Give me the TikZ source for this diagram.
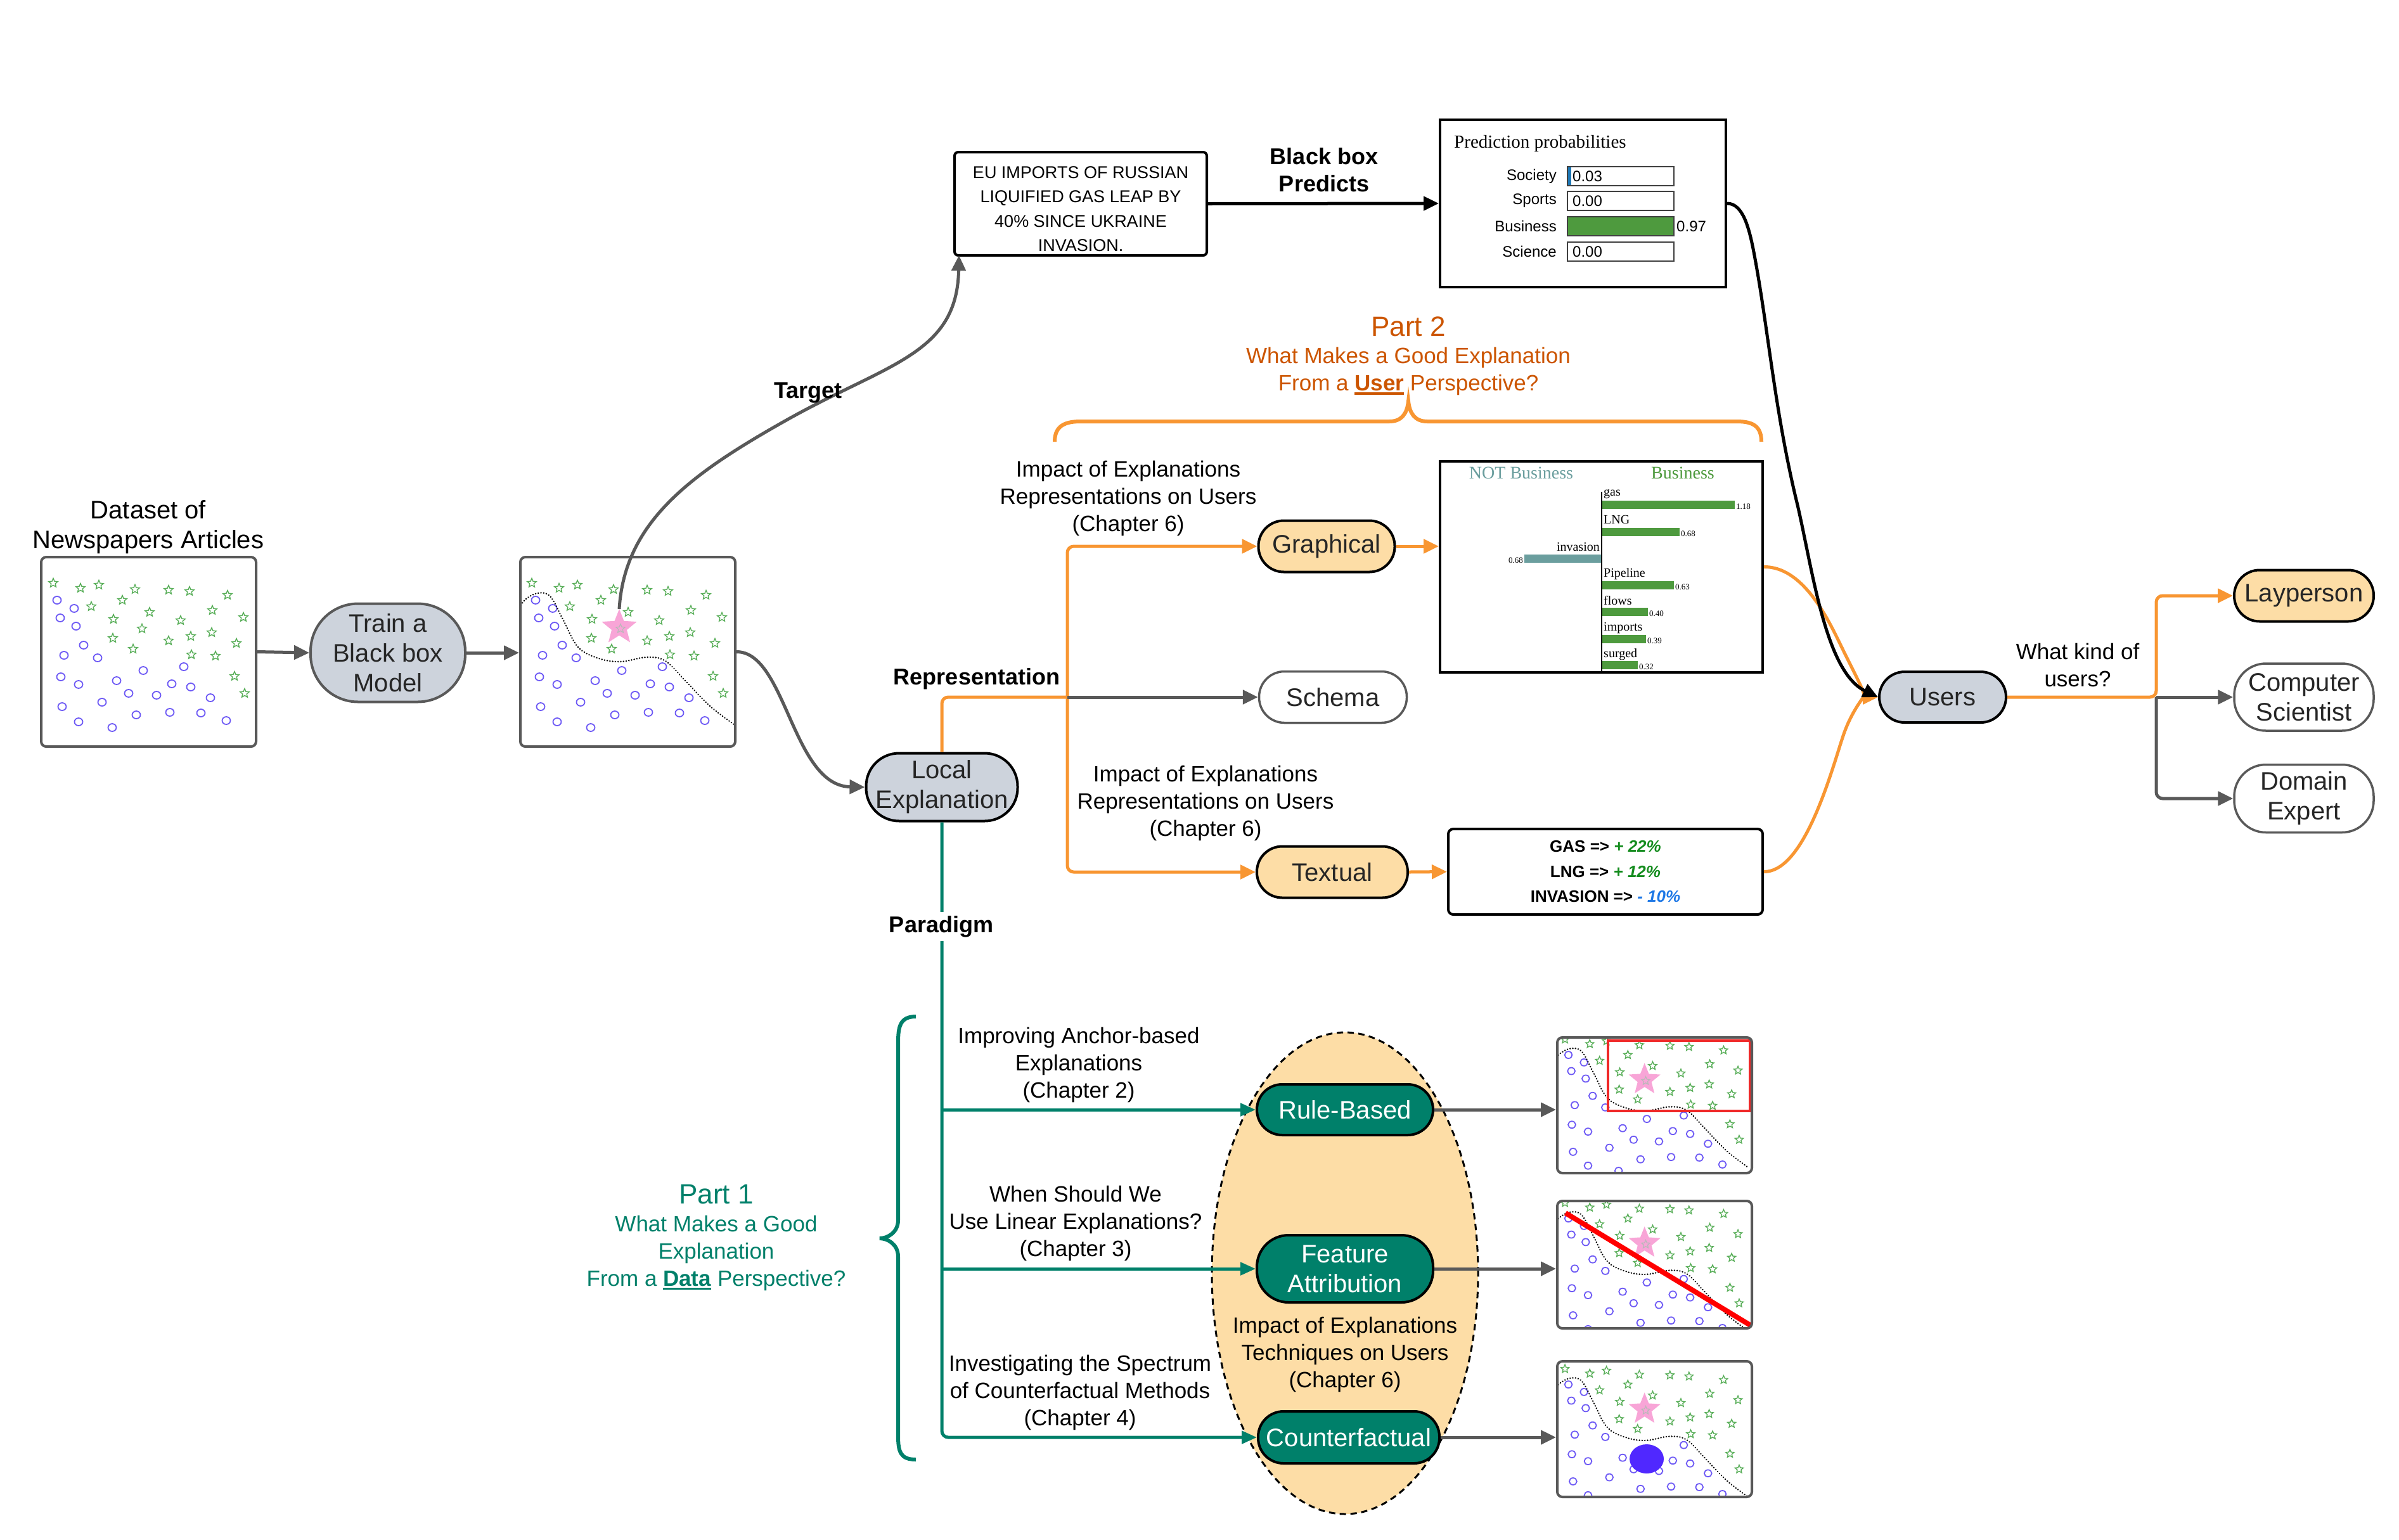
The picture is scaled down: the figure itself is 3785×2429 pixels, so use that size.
\documentclass[tikz,border=0pt]{standalone}
\usepackage{fontspec}
\setmainfont{Liberation Sans}
\newfontfamily\serifplot{Liberation Serif}
\usetikzlibrary{arrows.meta,shapes.geometric}
\definecolor{gline}{RGB}{89,89,89}
\definecolor{orng}{RGB}{248,150,50}
\definecolor{tealc}{RGB}{0,128,106}
\definecolor{peach}{RGB}{253,221,166}
\definecolor{bgrey}{RGB}{205,211,220}
\definecolor{ptwo}{RGB}{204,85,0}
\definecolor{circc}{RGB}{110,90,245}
\definecolor{starc}{RGB}{90,175,90}
\definecolor{pinkc}{RGB}{248,165,215}
\definecolor{plotg}{RGB}{78,154,62}
\definecolor{plott}{RGB}{107,158,158}
\definecolor{redc}{RGB}{240,40,40}
\definecolor{bluec}{RGB}{80,40,255}
\definecolor{txtgreen}{RGB}{20,140,30}
\definecolor{txtblue}{RGB}{30,120,230}
\definecolor{probblue}{RGB}{31,119,180}
\newcommand\fsz[2]{\fontsize{#1}{#2}\selectfont}
\newsavebox\ulbox
\newcommand\thul[1]{\sbox\ulbox{#1}\rlap{\rule[-6pt]{\wd\ulbox}{3.5pt}}\usebox\ulbox}
\newcommand\scatterpts{%
 \foreach \px/\py in {25/68,52/81,30/96,55/109,67/139,36/155,89/159,161/179,225/173,31/189,59/201,119/195,206/200,236/205,138/215,182/218,267/222,96/229,33/236,150/249,203/245,252/246,292/258,59/260,112/269}
  {\draw[circsty] (\px,\py) ellipse [x radius=6.5, y radius=6];}
 \foreach \px/\py in {19/41,62/49,91/44,148/51,201/52,234/54,294/60,79/78,128/68,171/87,114/98,220/100,270/84,319/95,159/113,113/128,201/132,236/125,269/119,308/136,145/145,237/154,275/156,305/188,321/215}
  {\node[smallstar] at (\px,\py) {};}
}
\newcommand\boundarypink{%
 \draw[bndsty] plot[smooth, tension=0.6] coordinates {(2,76) (10,66) (28,57) (48,62) (68,98) (92,142) (125,160) (160,165) (200,158) (230,164) (262,196) (300,235) (338,264)};
 \node[pinkstarsty] at (157,111) {};
 \node[faintstar] at (159,113) {};
}
\tikzset{
 circsty/.style={draw=circc, line width=1.8pt},
 smallstar/.style={star, star points=5, star point ratio=2.2, draw=starc, line width=1.4pt, minimum size=15pt, inner sep=0pt},
 pinkstarsty/.style={star, star points=5, star point ratio=2.3, fill=pinkc, minimum size=58pt, inner sep=0pt},
 faintstar/.style={star, star points=5, star point ratio=2.2, draw=gray!55, line width=1.2pt, minimum size=15pt, inner sep=0pt},
 bndsty/.style={black, line width=2.6pt, line cap=round, dash pattern=on 0.1pt off 4.2pt},
 pill/.style={draw=black, line width=4pt, inner sep=0pt, align=center, font=\fsz{40}{47}, text=black!85},
 gconn/.style={draw=gline, line width=5pt, -{Triangle[length=24pt,width=22pt]}, rounded corners=10pt},
 oline/.style={draw=orng, line width=5pt, rounded corners=10pt},
 oconn/.style={draw=orng, line width=5pt, -{Triangle[length=24pt,width=22pt]}, rounded corners=10pt},
 tconn/.style={draw=tealc, line width=5pt, -{Triangle[length=24pt,width=20pt]}, rounded corners=10pt},
 bconn/.style={draw=black, line width=5pt, -{Triangle[length=24pt,width=22pt]}},
 lbl/.style={align=center, font=\fsz{35}{43}, inner sep=0pt},
 blbl/.style={align=center, font=\fsz{36}{43}\bfseries, inner sep=0pt},
 databox/.style={draw=gline, line width=4pt, rounded corners=8pt, inner sep=0pt},
}
\begin{document}
\begin{tikzpicture}[x=1pt,y=-1pt]
\useasboundingbox (0,0) rectangle (3785,2429);
\fill[white] (0,0) rectangle (3785,2429);

% ---------- dashed ellipse ----------
\node[ellipse, draw=black, fill=peach, line width=3pt, dash pattern=on 10pt off 7pt, minimum width=420pt, minimum height=760pt, inner sep=0pt] (ell) at (2122,2009) {};

% ---------- dataset box ----------
\node[lbl, font=\fsz{40}{47}] (dlab) at (234,832) {Dataset of\\Newspapers Articles};
\begin{scope}[shift={(65,879)}]
 \scatterpts
\end{scope}
\node[databox, minimum width=339pt, minimum height=299pt] (dbox) at (234.5,1028.5) {};

% ---------- trained box ----------
\begin{scope}[shift={(820,879)}]
 \scatterpts
 \boundarypink
\end{scope}
\node[databox, minimum width=339pt, minimum height=299pt] (tbox) at (990.5,1028.5) {};
\coordinate (tstar) at (977,961);

% ---------- result boxes ----------
\begin{scope}
 \clip[rounded corners=8pt] (2457,1637) rectangle (2764,1851);
 \begin{scope}[shift={(2451.8,1602.7)}, scale=0.91, transform shape]
  \scatterpts \boundarypink
 \end{scope}
 \draw[redc, line width=4pt] (2537,1642) rectangle (2761,1753);
\end{scope}
\node[databox, minimum width=307pt, minimum height=214pt] (rb1) at (2610.5,1744) {};

\begin{scope}
 \clip[rounded corners=8pt] (2457,1895) rectangle (2764,2096);
 \begin{scope}[shift={(2451.8,1860.7)}, scale=0.91, transform shape]
  \scatterpts \boundarypink
 \end{scope}
 \draw[red, line width=8pt] (2470,1914) -- (2763,2092);
\end{scope}
\node[databox, minimum width=307pt, minimum height=201pt] (rb2) at (2610.5,1995.5) {};

\begin{scope}
 \clip[rounded corners=8pt] (2457,2148) rectangle (2764,2362);
 \begin{scope}[shift={(2451.8,2122.7)}, scale=0.91, transform shape]
  \scatterpts \boundarypink
 \end{scope}
 \fill[bluec] (2598,2302) ellipse [x radius=27, y radius=23];
\end{scope}
\node[databox, minimum width=307pt, minimum height=214pt] (rb3) at (2610.5,2255) {};

% ---------- nodes ----------
\node[pill, fill=bgrey, draw=gline, minimum width=244pt, minimum height=155pt, rounded corners=75pt] (train) at (612,1030) {Train a\\Black box\\Model};
\node[pill, fill=bgrey, minimum width=239pt, minimum height=107pt, rounded corners=52pt] (local) at (1486,1242) {Local\\Explanation};
\node[pill, fill=peach, minimum width=215pt, minimum height=81pt, rounded corners=40pt] (graph) at (2093,862) {Graphical};
\node[pill, fill=white, draw=gline, line width=3.5pt, minimum width=233pt, minimum height=81pt, rounded corners=40pt] (schema) at (2103,1100) {Schema};
\node[pill, fill=peach, minimum width=238pt, minimum height=81pt, rounded corners=40pt] (textual) at (2102,1376) {Textual};
\node[pill, fill=bgrey, minimum width=200pt, minimum height=80pt, rounded corners=40pt] (users) at (3065,1100) {Users};
\node[pill, fill=peach, minimum width=220pt, minimum height=81pt, rounded corners=40pt] (lay) at (3635,940) {Layperson};
\node[pill, fill=white, draw=gline, line width=3.5pt, minimum width=220pt, minimum height=106pt, rounded corners=50pt] (cs) at (3635,1100) {Computer\\Scientist};
\node[pill, fill=white, draw=gline, line width=3.5pt, minimum width=220pt, minimum height=107pt, rounded corners=50pt] (de) at (3635,1260) {Domain\\Expert};
\node[pill, fill=tealc, text=white, minimum width=278pt, minimum height=80pt, rounded corners=40pt] (rule) at (2122,1751) {Rule-Based};
\node[pill, fill=tealc, text=white, minimum width=278pt, minimum height=106pt, rounded corners=50pt] (feat) at (2122,2002) {Feature\\Attribution};
\node[pill, fill=tealc, text=white, minimum width=286pt, minimum height=82pt, rounded corners=40pt] (cf) at (2128,2268) {Counterfactual};

% ---------- headline box ----------
\node[draw=black, line width=4pt, rounded corners=6pt, minimum width=398pt, minimum height=163pt, inner sep=0pt] (headline) at (1705,321.5) {};
\node[align=center, font=\fsz{27}{38.5}, inner sep=0pt] (hltext) at (1705,329.5) {EU IMPORTS OF RUSSIAN\\LIQUIFIED GAS LEAP BY\\40\% SINCE UKRAINE\\INVASION.};

% ---------- prediction probabilities ----------
\node[draw=black, line width=4pt, minimum width=451pt, minimum height=264pt, inner sep=0pt] (pred) at (2497.5,321) {};
\node[anchor=west, font=\serifplot\fsz{29}{32}, inner sep=0pt] (pptitle) at (2294,227) {Prediction probabilities};
\fill[probblue] (2473,263) rectangle (2479,293);
\fill[plotg] (2473,342) rectangle (2641,372);
\foreach \nm/\yy in {Society/278, Sports/317, Business/357, Science/397}
 {\node[anchor=east, font=\fsz{24}{26}, inner sep=0pt] at (2456,\yy) {\nm};
  \draw[line width=1.6pt, draw=black!75] (2473,\yy-15) rectangle (2641,\yy+15);}
\foreach \vv/\yy in {0.03/278, 0.00/317, 0.00/397}
 {\node[anchor=west, font=\fsz{24}{26}, inner sep=0pt] at (2481,\yy) {\vv};}
\node[anchor=west, font=\fsz{24}{26}, inner sep=0pt] at (2645,357) {0.97};

% ---------- graphical explanation image ----------
\node[draw=black, line width=4pt, minimum width=509pt, minimum height=333pt, inner sep=0pt] (gimg) at (2526.5,894.5) {};
\node[text=plott, font=\serifplot\fsz{28}{30}, inner sep=0pt] at (2400,746) {NOT Business};
\node[text=plotg, font=\serifplot\fsz{28}{30}, inner sep=0pt] at (2655,746) {Business};
\draw[line width=2pt] (2527,776) -- (2527,1059);
\foreach \lab/\yl/\yb/\xe/\val in {gas/780/790/2737/1.18, LNG/820/833/2650/0.68, Pipeline/906/917/2641/0.63, flows/948/959/2600/0.40, imports/991/1002/2597/0.39, surged/1033/1043/2584/0.32}
 {\node[anchor=west, font=\serifplot\fsz{20}{22}, inner sep=0pt] at (2530,\yl) {\lab};
  \fill[plotg] (2528,\yb) rectangle (\xe,\yb+13);
  \node[anchor=west, font=\serifplot\fsz{13}{14}, inner sep=0pt] at (\xe+2,\yb+9) {\val};}
\node[anchor=east, font=\serifplot\fsz{20}{22}, inner sep=0pt] at (2524,863) {invasion};
\fill[plott] (2405,875) rectangle (2526,888);
\node[anchor=east, font=\serifplot\fsz{13}{14}, inner sep=0pt] at (2403,884) {0.68};

% ---------- textual explanation box ----------
\node[draw=black, line width=4pt, rounded corners=8pt, minimum width=496pt, minimum height=135pt, align=center, font=\fsz{26}{39.5}\bfseries, inner sep=0pt] (txtbox) at (2533,1375.5) {GAS => {\color{txtgreen}\itshape + 22\%}\\LNG => {\color{txtgreen}\itshape + 12\%}\\INVASION => {\color{txtblue}\itshape - 10\%}};

% ---------- connectors ----------
\coordinate (rj) at (1684,1100);
\coordinate (uj) at (3402,1100);
\coordinate (tgt) at (1513,403);
\draw[gconn] (dbox.east) -- (train.west);
\draw[gconn] (train.east) -- (tbox.west |- train.east);
\draw[gconn] (tbox.east) .. controls (1240,1028) and (1250,1240) .. (local.west);
\draw[gconn] (tstar) .. controls (985,830) and (1080,755) .. (1230,669) .. controls (1400,573) and (1510,560) .. (tgt);
\draw[bconn] (headline.east) -- (pred.west);
\draw[oline] (local.north) |- (rj);
\draw[oconn] (rj) |- (graph.west);
\draw[oconn] (rj) |- (textual.west);
\draw[gconn] (rj) -- (schema.west);
\draw[oconn] (graph.east) -- (graph.east -| gimg.west);
\draw[oconn] (textual.east) -- (txtbox.west);
\draw[oconn] (gimg.east) .. controls (2850,894) and (2890,990) .. (2915,1040) .. controls (2935,1080) and (2945,1100) .. (users.west);
\draw[oconn] (txtbox.east) .. controls (2840,1376) and (2880,1250) .. (2905,1170) .. controls (2920,1125) and (2940,1100) .. (users.west);
\draw[bconn] (pred.east) .. controls (2750,321) and (2760,360) .. (2768,403) .. controls (2790,520) and (2800,650) .. (2836,797) .. controls (2860,900) and (2880,1060) .. (users.west);
\draw[gconn] (uj) -- (cs.west);
\draw[gconn] (uj) |- (de.west);
\draw[oconn] (users.east) -- (uj) |- (lay.west);
\draw[tconn] (local.south) |- (cf.west);
\draw[tconn] (local.south |- rule.west) -- (rule.west);
\draw[tconn] (local.south |- feat.west) -- (feat.west);
\draw[gconn] (rule.east) -- (rule.east -| rb1.west);
\draw[gconn] (feat.east) -- (feat.east -| rb2.west);
\draw[gconn] (cf.east) -- (cf.east -| rb3.west);

% ---------- braces ----------
\draw[orng, line width=6pt] (1664,697) .. controls (1664,672) and (1680,665) .. (1705,665) -- (2192,665) .. controls (2212,665) and (2220,652) .. (2222,633) .. controls (2224,652) and (2232,665) .. (2252,665) -- (2740,665) .. controls (2765,665) and (2779,672) .. (2779,697);
\draw[tealc, line width=6pt] (1445,1604) .. controls (1420,1604) and (1417,1620) .. (1417,1645) -- (1417,1925) .. controls (1417,1945) and (1400,1954) .. (1388,1954) .. controls (1400,1954) and (1417,1963) .. (1417,1983) -- (1417,2265) .. controls (1417,2290) and (1420,2303) .. (1445,2303);

% ---------- labels ----------
\node[blbl] (ltarget) at (1275,620) {Target};
\node[blbl] (lpred) at (2089,268) {Black box\\Predicts};
\node[blbl] (lrep) at (1541,1071) {Representation};
\node[blbl, fill=white, inner sep=6pt] (lpar) at (1485,1462) {Paradigm};
\node[text=ptwo, font=\fsz{44}{50}, inner sep=0pt] (p2) at (2222,515) {Part 2};
\node[lbl, text=ptwo] (p2sub) at (2222,586) {What Makes a Good Explanation\\From a \thul{\textbf{User}} Perspective?};
\node[text=tealc, font=\fsz{44}{50}, inner sep=0pt] (p1) at (1130,1885) {Part 1};
\node[lbl, text=tealc] (p1sub) at (1130,1977) {What Makes a Good\\Explanation\\From a \thul{\textbf{Data}} Perspective?};
\node[lbl] (imp1) at (1780,786) {Impact of Explanations\\Representations on Users\\(Chapter 6)};
\node[lbl] (imp2) at (1902,1267) {Impact of Explanations\\Representations on Users\\(Chapter 6)};
\node[lbl] (ch2) at (1702,1680) {Improving Anchor-based\\Explanations\\(Chapter 2)};
\node[lbl] (ch3) at (1697,1930) {When Should We\\Use Linear Explanations?\\(Chapter 3)};
\node[lbl] (ch4) at (1704,2197) {Investigating the Spectrum\\of Counterfactual Methods\\(Chapter 4)};
\node[lbl] (imp3) at (2122,2137) {Impact of Explanations\\Techniques on Users\\(Chapter 6)};
\node[lbl] (kind) at (3278,1049) {What kind of\\users?};
\end{tikzpicture}
\end{document}
